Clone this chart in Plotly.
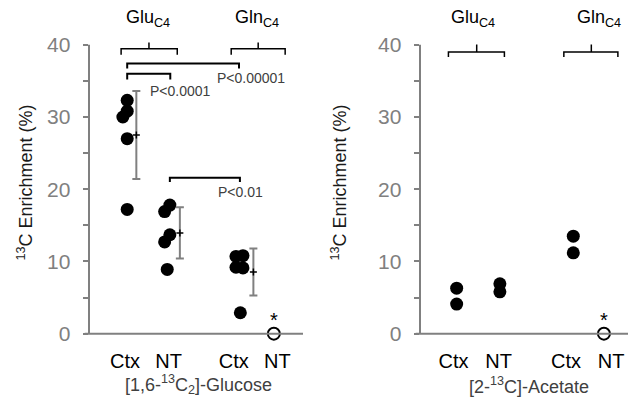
import plotly.graph_objects as go

# ---------------- data ----------------
categories = ["Ctx", "NT", "Ctx", "NT"]
cat_pos = [1, 2, 3.5, 4.5]

# [1,6-13C2]-Glucose panel
glc_glu_ctx = [32.3, 30.8, 30.0, 27.0, 17.2]
glc_glu_nt = [17.8, 16.9, 13.7, 12.7, 8.9]
glc_gln_ctx = [10.8, 10.7, 9.2, 9.1, 2.9]
glc_gln_nt = [0.0]
glc_mean = [27.5, 13.95, 8.55]
glc_sd = [6.1, 3.55, 3.25]

# [2-13C]-Acetate panel
ace_glu_ctx = [6.3, 4.1]
ace_glu_nt = [6.9, 5.8]
ace_gln_ctx = [13.5, 11.2]
ace_gln_nt = [0.0]

y_ticks = [0, 5, 10, 15, 20, 25, 30, 35, 40]
y_ticktext = ["0", "", "10", "", "20", "", "30", "", "40"]

p_labels = ["P<0.00001", "P<0.0001", "P<0.01"]

# ---------------- layout helpers (positions / styles) ----------------
glc_jitter = [
    [0.05, 0.05, -0.05, 0.05, 0.05],
    [0.03, -0.09, 0.03, -0.09, -0.03],
    [0.21, 0.05, 0.05, 0.21, 0.15],
]
glc_nt_jitter = -0.08
glc_err_off = [0.26, 0.26, 0.45]
ace_jitter = [0.07, 0.03, 0.16]
ace_nt_jitter = -0.16

GRAY = "#808080"
DARK = "#404040"
FONT = "Liberation Sans, Arial, sans-serif"
YMAX = 41
PAD = "\u2009\u2009"  # extra gap between tick labels and the axis

fig = go.Figure()


def dots(xs, ys, xa, ya):
    fig.add_trace(go.Scatter(
        x=xs, y=ys, mode="markers", xaxis=xa, yaxis=ya, showlegend=False,
        marker=dict(size=13, color="black", line=dict(width=0)),
        cliponaxis=False, hoverinfo="skip"))


def open_dot(x, y, xa, ya):
    fig.add_trace(go.Scatter(
        x=[x], y=[y], mode="markers", xaxis=xa, yaxis=ya, showlegend=False,
        marker=dict(size=12, color="white", line=dict(width=2, color="black")),
        cliponaxis=False, hoverinfo="skip"))


# Glucose panel
glc_groups = [glc_glu_ctx, glc_glu_nt, glc_gln_ctx]
for i, vals in enumerate(glc_groups):
    xs = [cat_pos[i] + j for j in glc_jitter[i]]
    dots(xs, vals, "x", "y")
# mean +/- sd
err_x = [cat_pos[i] + glc_err_off[i] for i in range(3)]
fig.add_trace(go.Scatter(
    x=err_x, y=glc_mean, mode="markers", xaxis="x", yaxis="y", showlegend=False,
    marker=dict(symbol="cross-thin", size=5, color="black",
                line=dict(width=1.5, color="black")),
    error_y=dict(type="data", array=glc_sd, symmetric=True, color=GRAY,
                 thickness=2, width=4),
    hoverinfo="skip"))
open_dot(cat_pos[3] + glc_nt_jitter, glc_gln_nt[0], "x", "y")

# Acetate panel
ace_groups = [ace_glu_ctx, ace_glu_nt, ace_gln_ctx]
for i, vals in enumerate(ace_groups):
    xs = [cat_pos[i] + ace_jitter[i]] * len(vals)
    dots(xs, vals, "x2", "y2")
open_dot(cat_pos[3] + ace_nt_jitter, ace_gln_nt[0], "x2", "y2")

# ---------------- axes ----------------
ydom = [0.1773, 0.9347]
yaxis_common = dict(
    range=[0, YMAX], domain=ydom, tickvals=y_ticks,
    ticktext=[t + PAD if t else t for t in y_ticktext],
    ticks="outside", ticklen=5, tickwidth=2, tickcolor=GRAY,
    tickfont=dict(family=FONT, size=21, color=GRAY),
    showline=False, showgrid=False, zeroline=False, fixedrange=True)
xaxis_common = dict(
    tickvals=cat_pos, ticktext=categories, ticks="outside", ticklen=9,
    tickcolor="rgba(0,0,0,0)", tickfont=dict(family=FONT, size=20, color="black"),
    showline=False, showgrid=False, zeroline=False, fixedrange=True)

fig.update_layout(
    width=636, height=406, margin=dict(l=0, r=0, t=0, b=0),
    paper_bgcolor="white", plot_bgcolor="white", showlegend=False,
    xaxis=dict(domain=[81 / 636, 295 / 636], range=[0.172, 5.09], anchor="y",
               **xaxis_common),
    yaxis=dict(anchor="x", **yaxis_common),
    xaxis2=dict(domain=[412 / 636, 627 / 636], range=[0.256, 5.03], anchor="y2",
                **xaxis_common),
    yaxis2=dict(anchor="x2", **yaxis_common),
)

shapes = []
annotations = []

for xr, yr in [("x", "y"), ("x2", "y2")]:
    # y axis line 0..40
    shapes.append(dict(type="line", xref=xr + " domain", yref=yr, x0=0, x1=0,
                       y0=0, y1=40, line=dict(color=GRAY, width=2)))
    # x axis line
    shapes.append(dict(type="line", xref=xr + " domain", yref=yr + " domain",
                       x0=-0.02, x1=1, y0=0, y1=0, line=dict(color=GRAY, width=2)))


def group_bracket(xr, yr, x0, x1, xc, ytop, yend, ytick):
    path = (f"M {x0},{yend} L {x0},{ytop} L {x1},{ytop} L {x1},{yend} "
            f"M {xc},{ytop} L {xc},{ytick}")
    shapes.append(dict(type="path", xref=xr, yref=yr, path=path,
                       line=dict(color="black", width=1.5)))


def sig_bracket(x0, x1, ytop, yend):
    path = f"M {x0},{yend} L {x0},{ytop} L {x1},{ytop} L {x1},{yend}"
    shapes.append(dict(type="path", xref="x", yref="y", path=path,
                       line=dict(color="black", width=2)))


# group brackets
group_bracket("x", "y", 0.91, 2.2, 1.55, 39.45, 38.6, 40.3)
group_bracket("x", "y", 3.44, 4.68, 4.06, 39.45, 38.6, 40.3)
group_bracket("x2", "y2", 0.887, 2.13, 1.515, 39.0, 38.3, 40.05)
group_bracket("x2", "y2", 3.45, 4.65, 4.06, 39.0, 38.3, 40.05)

# group labels sit above the plotting range -> place them on the y domain
for xr, yr, x, txt in [("x", "y", 1.52, "Glu<sub>C4</sub>"), ("x", "y", 4.03, "Gln<sub>C4</sub>"),
                       ("x2", "y2", 1.43, "Glu<sub>C4</sub>"), ("x2", "y2", 4.24, "Gln<sub>C4</sub>")]:
    annotations.append(dict(xref=xr, yref=yr + " domain", x=x, y=43.6 / YMAX, text=txt,
                            showarrow=False, xanchor="center", yanchor="middle",
                            font=dict(family=FONT, size=18, color="black")))

# significance brackets (glucose panel)
sig_bracket(1.05, 3.62, 37.4, 36.7)
sig_bracket(1.05, 2.04, 36.0, 35.2)
sig_bracket(2.03, 3.64, 21.6, 21.0)
for (x, y), txt in zip([(3.9, 35.4), (2.28, 33.6), (3.66, 19.6)], p_labels):
    annotations.append(dict(xref="x", yref="y", x=x, y=y, text=txt, showarrow=False,
                            xanchor="center", yanchor="middle",
                            font=dict(family=FONT, size=14, color=DARK)))

# asterisks over the zero values
for xr, yr, x in [("x", "y", cat_pos[3] + glc_nt_jitter), ("x2", "y2", cat_pos[3] + ace_nt_jitter)]:
    annotations.append(dict(xref=xr, yref=yr, x=x, y=0, yshift=14, text="*",
                            showarrow=False, xanchor="center", yanchor="middle",
                            font=dict(family=FONT, size=20, color="black")))

# axis titles
for xp in [17 / 636, 331 / 636]:
    annotations.append(dict(xref="paper", yref="paper", x=xp, y=1 - 177 / 406,
                            text="<sup>13</sup>C Enrichment (%)", textangle=-90,
                            showarrow=False, xanchor="center", yanchor="middle",
                            font=dict(family=FONT, size=18, color="#1a1a1a")))
annotations.append(dict(xref="paper", yref="paper", x=190.5 / 636, y=1 - 387 / 406,
                        text="[1,6-<sup>13</sup>C<sub>2</sub>]-Glucose", showarrow=False,
                        xanchor="center", yanchor="middle",
                        font=dict(family=FONT, size=18, color=DARK)))
annotations.append(dict(xref="paper", yref="paper", x=520.7 / 636, y=1 - 387.5 / 406,
                        text="[2-<sup>13</sup>C]-Acetate", showarrow=False,
                        xanchor="center", yanchor="middle",
                        font=dict(family=FONT, size=18, color=DARK)))

fig.update_layout(shapes=shapes, annotations=annotations)
fig.write_html("out.html")
